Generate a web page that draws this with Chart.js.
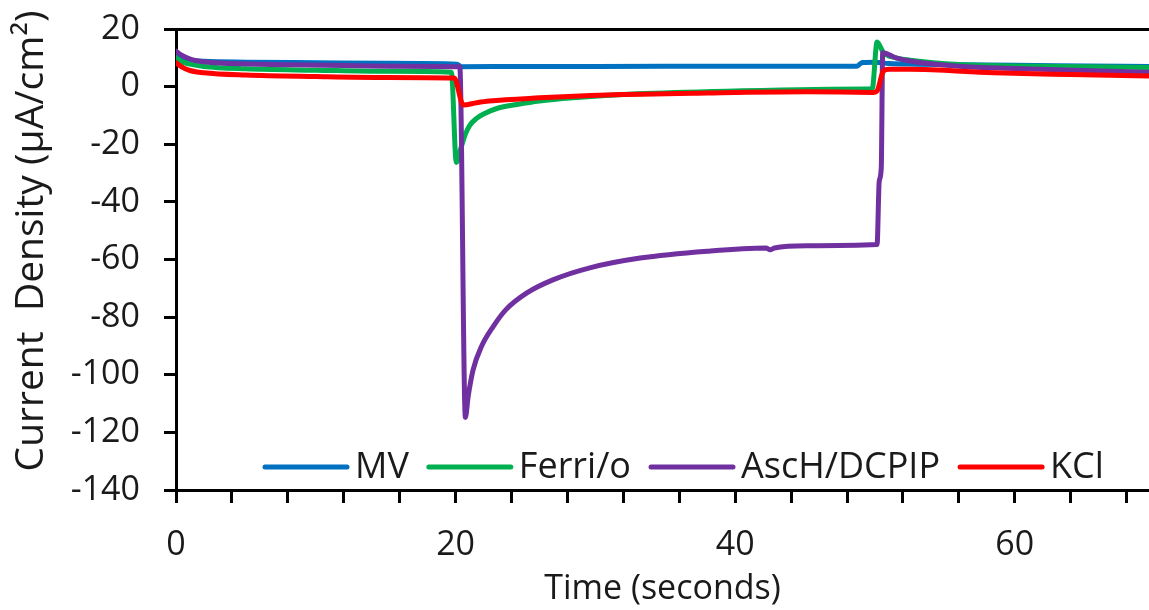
<!DOCTYPE html>
<html>
<head>
<meta charset="utf-8">
<script src="https://cdn.jsdelivr.net/npm/chart.js@4.4.1/dist/chart.umd.min.js"></script>
<style>
  body { margin: 0; background: #fff; }
  #wrap { width: 1149px; height: 610px; position: relative; }
</style>
</head>
<body>
<div id="wrap"><canvas id="myChart"></canvas></div>
<script>
// series names and colours
const labels = ["MV", "Ferri/o", "AscH/DCPIP", "KCl"];
const colors = ["#0070C0", "#00B050", "#7030A0", "#FF0000"];

// MV
const tMV = [0, 0.5, 1, 2, 5, 10, 15, 20.1, 20.4, 25, 30, 40, 48.7, 49.1, 50, 51, 53, 56, 60, 65, 69.6];
const vMV = [11, 9.8, 9.2, 8.8, 8.5, 8.3, 8.1, 7.8, 6.9, 7.0, 7.0, 7.1, 7.1, 8.4, 8.5, 8.0, 7.8, 7.6, 7.4, 7.2, 7.0];

// Ferri/o
const tFerri = [0, 0.5, 1, 2, 5, 10, 15, 19.7, 20.05, 20.4, 20.7, 21, 21.5, 22, 23, 24.4, 26, 28.4, 33, 40, 49.4, 49.8, 50.15, 50.6, 51.5, 52.5, 56, 60, 65, 69.6];
const vFerri = [10, 8.5, 7.8, 7.0, 6.2, 5.7, 5.3, 5.0, -26.3, -21, -16.5, -13.5, -11, -9.5, -7.5, -6.2, -5.0, -3.9, -2.5, -1.5, -0.8, -0.8, 15.5, 11.8, 10.0, 9.2, 7.7, 7.2, 6.9, 6.6];

// AscH/DCPIP
const tAsc = [0, 0.3, 0.7, 1.2, 2, 4, 8, 12, 16, 20.3, 20.7, 20.9, 21.25, 21.85, 22.7, 23.6, 25.1, 27, 29.6, 33.2, 38, 42.2, 42.5, 42.8, 45.1, 50.15, 50.3, 50.45, 50.55, 51.5, 52.5, 56, 60, 65, 69.6];
const vAsc = [12.3, 11.2, 10.2, 9.3, 8.6, 8.0, 7.6, 7.3, 7.1, 6.9, -114.8, -107.5, -98.3, -90.2, -83.2, -77.4, -71.6, -67.0, -62.9, -59.5, -57.1, -56.0, -56.6, -56.0, -55.2, -54.8, -33, -28, 11.8, 10.0, 8.9, 7.1, 6.3, 5.6, 5.0];

// KCl
const tKCl = [0, 0.5, 1, 2, 5, 10, 15, 19.9, 20.55, 21.5, 22.4, 26, 30.8, 38, 45.1, 49.9, 50.15, 50.6, 51, 52.5, 58.5, 64, 69.6];
const vKCl = [8.3, 6.6, 5.6, 4.8, 4.0, 3.5, 3.2, 3.0, -6.4, -5.6, -5.0, -3.9, -2.9, -2.2, -1.8, -2.0, -1.5, 5.4, 6.0, 6.0, 4.8, 4.2, 3.7];

// axis ticks
const xTickLabels = [0, 20, 40, 60];
const yTicks = [20, 0, -20, -40, -60, -80, -100, -120, -140];

const FONT = "'Open Sans', sans-serif";
const TEXT = "#1a1a1a";
const yTitle = "Current  Density (\u00b5A/cm\u00b2)";

const toPoints = (ts, vs) => ts.map((t, i) => ({ x: t, y: vs[i] }));
const series = [toPoints(tMV, vMV), toPoints(tFerri, vFerri), toPoints(tAsc, vAsc), toPoints(tKCl, vKCl)];

// legend inside the plot above the x axis, plus the y title
const extras = {
  id: "extras",
  afterDatasetsDraw(chart) {
    const c = chart.ctx;
    const y = 467;
    let x = 265;
    c.save();
    c.font = "36px " + FONT;
    c.textBaseline = "middle";
    chart.data.datasets.forEach(ds => {
      c.strokeStyle = ds.borderColor;
      c.lineWidth = 5;
      c.lineCap = "round";
      c.beginPath();
      c.moveTo(x, y);
      c.lineTo(x + 82, y);
      c.stroke();
      x += 90;
      c.fillStyle = TEXT;
      c.fillText(ds.label, x, y + 1);
      x += c.measureText(ds.label).width + 20;
    });

    // y axis title
    c.translate(32, 241);
    c.rotate(-Math.PI / 2);
    c.font = "39px " + FONT;
    c.textAlign = "center";
    c.fillText(yTitle, 0, 0);
    c.restore();
  }
};

let ctx = document.getElementById("myChart");
let myChart = new Chart(ctx, {
  type: "line",
  data: {
    datasets: labels.map((name, i) => ({
      label: name,
      data: series[i],
      borderColor: colors[i],
      backgroundColor: colors[i],
      borderWidth: 5,
      pointRadius: 0,
      cubicInterpolationMode: "monotone",
      borderJoinStyle: "round",
      borderCapStyle: "round",
      order: 4 - i
    }))
  },
  options: {
    responsive: true,
    maintainAspectRatio: false,
    animation: false,
    layout: { padding: { top: 29, right: 0, left: 0, bottom: 0 } },
    plugins: {
      legend: { display: false },
      tooltip: { enabled: false }
    },
    scales: {
      x: {
        type: "linear",
        min: 0,
        max: 69.6,
        afterFit: s => { s.height = 120; s.paddingLeft = 0; s.paddingRight = 0; },
        border: { color: "#000", width: 3 },
        grid: { drawOnChartArea: false, drawTicks: true, tickLength: 13, tickWidth: 3, color: "#000" },
        ticks: {
          stepSize: 4,
          includeBounds: false,
          autoSkip: false,
          maxRotation: 0,
          padding: 22,
          color: TEXT,
          font: { family: FONT, size: 34 },
          callback: v => xTickLabels.includes(v) ? v : ""
        },
        title: {
          display: true,
          text: "Time (seconds)",
          color: TEXT,
          font: { family: FONT, size: 34 },
          padding: { top: 0, bottom: 0 }
        }
      },
      xTop: {
        type: "linear",
        position: "top",
        afterFit: s => { s.height = 0; },
        border: { color: "#000", width: 3 },
        grid: { display: false, drawTicks: false },
        ticks: { display: false }
      },
      y: {
        min: -140,
        max: 20,
        afterFit: s => { s.width = 176; s.paddingTop = 0; s.paddingBottom = 0; },
        afterBuildTicks: s => { s.ticks = yTicks.map(v => ({ value: v })); },
        border: { color: "#000", width: 3 },
        grid: { drawOnChartArea: false, drawTicks: true, tickLength: 12, tickWidth: 3, color: "#000" },
        ticks: {
          padding: 24,
          color: TEXT,
          font: { family: FONT, size: 34 }
        },
        title: { display: false }
      }
    }
  },
  plugins: [extras]
});
</script>
</body>
</html>
